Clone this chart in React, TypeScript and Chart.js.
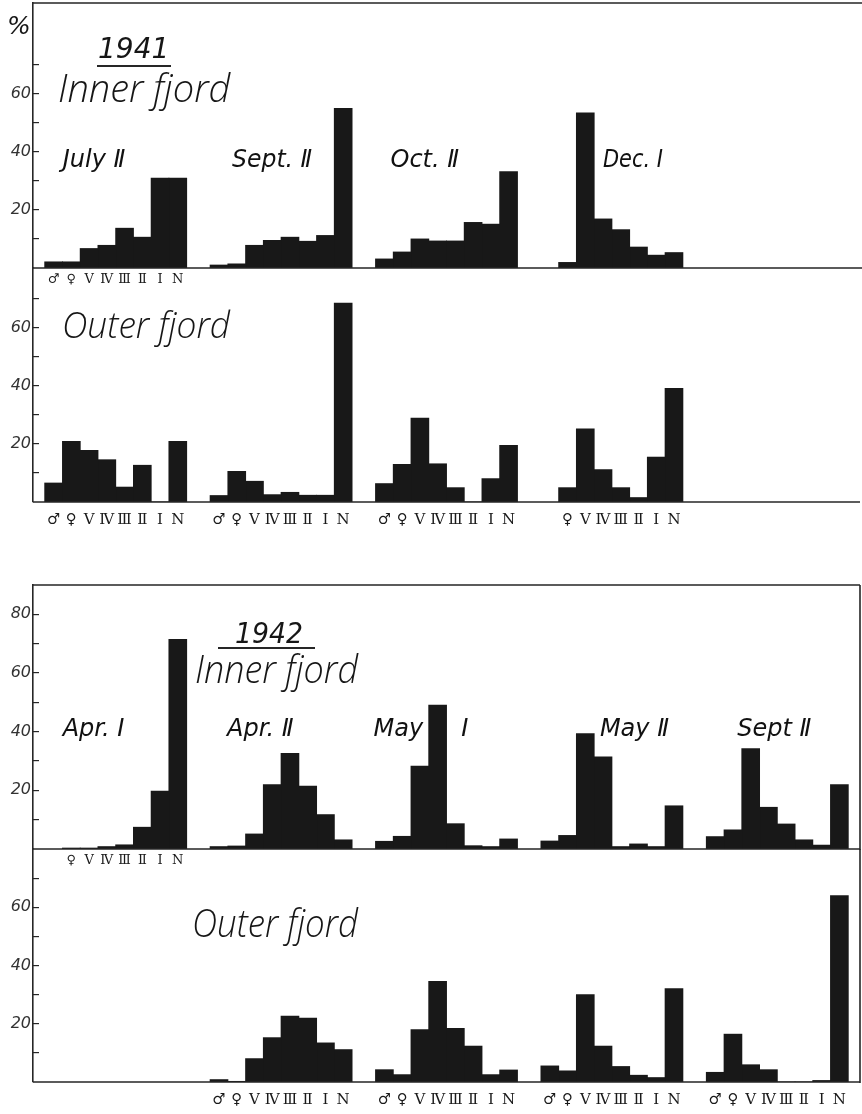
import React, { useEffect, useRef } from 'react';
import { Chart, registerables } from 'chart.js';

Chart.register(...registerables);

// ---------------- data ----------------
const STAGES = ['♂', '♀', 'Ⅴ', 'Ⅳ', 'Ⅲ', 'Ⅱ', 'Ⅰ', 'N'];

const DATES_1941 = ['July Ⅱ', 'Sept. Ⅱ', 'Oct. Ⅱ', 'Dec. Ⅰ'];
const DATES_1942 = ['Apr. Ⅰ', 'Apr. Ⅱ', 'May     Ⅰ', 'May Ⅱ', 'Sept Ⅱ'];

// 1941 Inner fjord (% by stage: ♂ ♀ V IV III II I N)
const IN41_JULY_II = [2.1, 2.1, 6.7, 7.8, 13.7, 10.6, 31, 31];
const IN41_SEPT_II = [1.0, 1.4, 7.8, 9.5, 10.6, 9.2, 11.2, 55];
const IN41_OCT_II = [3.1, 5.5, 10, 9.3, 9.3, 15.7, 15.1, 33.2];
const IN41_DEC_I = [null, 1.9, 53.5, 16.9, 13.2, 7.2, 4.4, 5.3];

// 1941 Outer fjord
const OUT41_JULY_II = [6.5, 20.8, 17.7, 14.5, 5.1, 12.6, 0, 20.8];
const OUT41_SEPT_II = [2.2, 10.5, 7.1, 2.5, 3.3, 2.3, 2.3, 68.3];
const OUT41_OCT_II = [6.3, 12.9, 28.8, 13.1, 4.9, 0, 8, 19.4];
const OUT41_DEC_I = [null, 4.9, 25.1, 11.1, 4.9, 1.5, 15.4, 39];

// 1942 Inner fjord
const IN42_APR_I = [null, 0.3, 0.3, 0.8, 1.4, 7.4, 19.7, 71.4];
const IN42_APR_II = [0.8, 1.0, 5.1, 21.9, 32.6, 21.4, 11.7, 3.1];
const IN42_MAY_I = [2.6, 4.3, 28.2, 49, 8.6, 1.1, 0.8, 3.4];
const IN42_MAY_II = [2.7, 4.6, 39.3, 31.4, 0.8, 1.7, 0.8, 14.7];
const IN42_SEPT_II = [4.2, 6.5, 34.2, 14.2, 8.5, 3.1, 1.3, 21.9];

// 1942 Outer fjord
const OUT42_APR_I = [null, null, null, null, null, null, null, null];
const OUT42_APR_II = [0.8, 0.2, 8, 15.2, 22.6, 21.9, 13.4, 11.1];
const OUT42_MAY_I = [4.2, 2.5, 18, 34.5, 18.4, 12.3, 2.5, 4.1];
const OUT42_MAY_II = [5.5, 3.8, 30, 12.3, 5.3, 2.3, 1.5, 32];
const OUT42_SEPT_II = [3.3, 16.4, 5.9, 4.2, 0, 0, 0.5, 64];

const TICKS_INNER_1941 = [10, 20, 30, 40, 50, 60, 70];
const TICKS_INNER_1942 = [10, 20, 30, 40, 50, 60, 70, 80];
const TICKS_OUTER = [10, 20, 30, 40, 50, 60, 70];
const TICK_LABELS = [20, 40, 60, 80];

// ---------------- layout / style ----------------
const W = 862;
const H = 1114;
const PLOT_LEFT = 33;
const PLOT_RIGHT = 860;
const SLOTS = 5;
const BAR = '#181818';
const INK = '#262626';
const TITLE_FONT = (px: number) => `italic 300 ${px}px 'Open Sans', 'DejaVu Sans', sans-serif`;
const YEAR_FONT = "italic 28px 'DejaVu Sans', sans-serif";
const DATE_FONT = "italic 24px 'DejaVu Sans', sans-serif";
const STAGE_FONT = (px: number) => `${px}px 'DejaVu Serif', 'DejaVu Sans', serif`;

type Txt = { text: string; x: number; y: number; font: string; maxWidth?: number; underline?: [number, number, number] };
type DateLbl = { dx: number; v: number; w: number };

const PANELS = [
  {
    id: 'in41', dates: DATES_1941, groups: [IN41_JULY_II, IN41_SEPT_II, IN41_OCT_II, IN41_DEC_I],
    max: 91.4, ticks: TICKS_INNER_1941, top: 3, bottom: 268, lineEnd: 862, topBorder: true, rightBorder: false,
    stageGroups: [0], stageDy: 12, stageSize: 13, showDates: true,
    dateLbls: [{ dx: -53, v: 37, w: 77 }, { dx: -49, v: 37, w: 80 }, { dx: -56, v: 37, w: 70 }, { dx: -9, v: 37, w: 60 }] as DateLbl[],
    texts: [
      { text: '%', x: 7, y: 34, font: "italic 25px 'DejaVu Sans', sans-serif" },
      { text: '1941', x: 98, y: 58, font: YEAR_FONT, maxWidth: 72, underline: [97, 171, 66] },
      { text: 'Inner fjord', x: 58, y: 102, font: TITLE_FONT(38), maxWidth: 176 },
    ] as Txt[],
  },
  {
    id: 'out41', dates: DATES_1941, groups: [OUT41_JULY_II, OUT41_SEPT_II, OUT41_OCT_II, OUT41_DEC_I],
    max: 80.4, ticks: TICKS_OUTER, top: 268, bottom: 502, lineEnd: 860, topBorder: false, rightBorder: false,
    stageGroups: [0, 1, 2, 3], stageDy: 18, stageSize: 15, showDates: false,
    dateLbls: [] as DateLbl[],
    texts: [{ text: 'Outer fjord', x: 62, y: 338, font: TITLE_FONT(36), maxWidth: 168 }] as Txt[],
  },
  {
    id: 'in42', dates: DATES_1942, groups: [IN42_APR_I, IN42_APR_II, IN42_MAY_I, IN42_MAY_II, IN42_SEPT_II],
    max: 90, ticks: TICKS_INNER_1942, top: 585, bottom: 849, lineEnd: 860, topBorder: true, rightBorder: true,
    stageGroups: [0], stageDy: 12, stageSize: 13, showDates: true,
    dateLbls: [{ dx: -53, v: 40.8, w: 74 }, { dx: -54, v: 40.8, w: 73 }, { dx: -73, v: 40.8, w: 99 }, { dx: -12, v: 40.8, w: 72 }, { dx: -40, v: 40.8, w: 76 }] as DateLbl[],
    texts: [
      { text: '1942', x: 235, y: 643, font: YEAR_FONT, maxWidth: 68, underline: [218, 315, 648] },
      { text: 'Inner fjord', x: 195, y: 683, font: TITLE_FONT(38), maxWidth: 163 },
    ] as Txt[],
  },
  {
    id: 'out42', dates: DATES_1942, groups: [OUT42_APR_I, OUT42_APR_II, OUT42_MAY_I, OUT42_MAY_II, OUT42_SEPT_II],
    max: 80, ticks: TICKS_OUTER, top: 849, bottom: 1082, lineEnd: 860, topBorder: false, rightBorder: true,
    stageGroups: [1, 2, 3, 4], stageDy: 18, stageSize: 15, showDates: false,
    dateLbls: [] as DateLbl[],
    texts: [{ text: 'Outer fjord', x: 192, y: 937, font: TITLE_FONT(38), maxWidth: 166 }] as Txt[],
  },
];

type Panel = (typeof PANELS)[number];

function makeChart(canvas: HTMLCanvasElement, p: Panel) {
  const labels = [...p.dates];
  while (labels.length < SLOTS) labels.push('');

  const datasets = STAGES.map((s, i) => ({
    label: s,
    data: p.groups.map((g) => g[i]),
    backgroundColor: BAR,
    borderWidth: 0,
    barPercentage: 1,
    categoryPercentage: 0.858,
    inflateAmount: 0.45,
  }));

  const deco = {
    id: 'deco' + p.id,
    beforeDatasetsDraw(chart: any) {
      if (!p.showDates) return;
      const ctx = chart.ctx;
      const xs = chart.scales.x;
      const ys = chart.scales.y;
      ctx.save();
      ctx.fillStyle = '#111';
      ctx.font = DATE_FONT;
      ctx.textAlign = 'left';
      ctx.textBaseline = 'middle';
      p.dates.forEach((d, j) => {
        const l = p.dateLbls[j];
        ctx.fillText(d, xs.getPixelForValue(j) + l.dx, ys.getPixelForValue(l.v), l.w);
      });
      ctx.restore();
    },
    afterDatasetsDraw(chart: any) {
      const ctx = chart.ctx;
      const ca = chart.chartArea;
      ctx.save();
      ctx.strokeStyle = INK;
      ctx.lineWidth = 1.6;
      ctx.beginPath();
      ctx.moveTo(ca.left, ca.bottom);
      ctx.lineTo(p.lineEnd, ca.bottom);
      if (p.topBorder) {
        ctx.moveTo(ca.left, ca.top);
        ctx.lineTo(p.lineEnd, ca.top);
      }
      if (p.rightBorder) {
        ctx.moveTo(ca.right, ca.top);
        ctx.lineTo(ca.right, ca.bottom + 1);
      }
      ctx.stroke();

      // stage symbols under the bars
      ctx.fillStyle = '#1a1a1a';
      ctx.font = STAGE_FONT(p.stageSize);
      ctx.textAlign = 'center';
      ctx.textBaseline = 'middle';
      STAGES.forEach((s, i) => {
        const meta = chart.getDatasetMeta(i);
        p.stageGroups.forEach((j) => {
          const v = p.groups[j][i];
          if (v === null || v === undefined) return;
          const bar = meta.data[j];
          ctx.fillText(s, bar.x, ca.bottom + p.stageDy, 16);
        });
      });

      // titles
      ctx.fillStyle = '#161616';
      ctx.textAlign = 'left';
      ctx.textBaseline = 'alphabetic';
      p.texts.forEach((t) => {
        ctx.font = t.font;
        if (t.maxWidth) ctx.fillText(t.text, t.x, t.y, t.maxWidth);
        else ctx.fillText(t.text, t.x, t.y);
        if (t.underline) {
          ctx.lineWidth = 1.8;
          ctx.beginPath();
          ctx.moveTo(t.underline[0], t.underline[2]);
          ctx.lineTo(t.underline[1], t.underline[2]);
          ctx.stroke();
        }
      });
      ctx.restore();
    },
  };

  return new Chart(canvas, {
    type: 'bar',
    data: { labels, datasets },
    options: {
      responsive: false,
      animation: false,
      devicePixelRatio: 1,
      events: [],
      layout: { padding: { top: p.top, bottom: H - p.bottom, left: 0, right: W - PLOT_RIGHT } },
      plugins: { legend: { display: false }, tooltip: { enabled: false }, title: { display: false } },
      scales: {
        x: { type: 'category', display: false, offset: true, grid: { display: false } },
        y: {
          type: 'linear',
          position: 'left',
          min: 0,
          max: p.max,
          afterFit: (s: any) => {
            s.width = PLOT_LEFT;
            s.paddingTop = 0;
            s.paddingBottom = 0;
          },
          afterBuildTicks: (s: any) => {
            s.ticks = p.ticks.map((v) => ({ value: v }));
          },
          grid: { drawOnChartArea: false, drawTicks: true, tickLength: -6, color: INK, lineWidth: 1.2 },
          border: { display: true, color: INK, width: 1.6 },
          ticks: {
            autoSkip: false,
            padding: 8,
            color: '#333',
            font: { family: "'DejaVu Sans', sans-serif", style: 'italic', size: 16 },
            callback: (v: any) => (TICK_LABELS.includes(Number(v)) ? String(v) : ''),
          },
        },
      },
    } as any,
    plugins: [deco],
  });
}

export default function App() {
  const refs = useRef<(HTMLCanvasElement | null)[]>([]);
  useEffect(() => {
    const charts = PANELS.map((p, k) => makeChart(refs.current[k] as HTMLCanvasElement, p));
    return () => charts.forEach((c) => c.destroy());
  }, []);
  return (
    <div style={{ position: 'absolute', left: 0, top: 0, width: W, height: H, background: '#fff', overflow: 'hidden' }}>
      {PANELS.map((p, k) => (
        <canvas
          key={p.id}
          ref={(el) => {
            refs.current[k] = el;
          }}
          width={W}
          height={H}
          style={{ position: 'absolute', left: 0, top: 0, width: W, height: H }}
        />
      ))}
    </div>
  );
}
